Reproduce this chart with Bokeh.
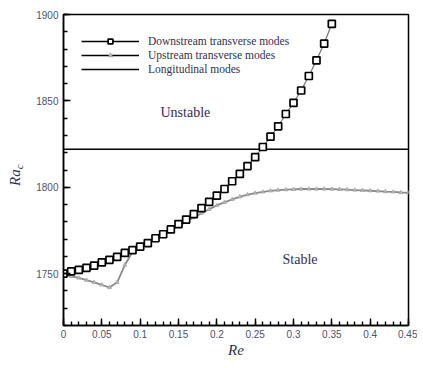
from bokeh.plotting import figure
from bokeh.models import Range1d, Label, Legend, LegendItem, FixedTicker, Div
from bokeh.layouts import row
from bokeh.embed import file_html
from bokeh.resources import INLINE

re_down = [0.00, 0.01, 0.02, 0.03, 0.04, 0.05, 0.06, 0.07, 0.08, 0.09, 0.10, 0.11,
           0.12, 0.13, 0.14, 0.15, 0.16, 0.17, 0.18, 0.19, 0.20, 0.21, 0.22, 0.23,
           0.24, 0.25, 0.26, 0.27, 0.28, 0.29, 0.30, 0.31, 0.32, 0.33, 0.34, 0.35]
ra_down = [1750.0, 1751.3, 1752.2, 1753.4, 1754.7, 1756.5, 1758.0, 1759.7, 1762.0,
           1763.6, 1765.7, 1767.7, 1770.5, 1772.8, 1775.6, 1778.7, 1781.3, 1784.5,
           1787.9, 1791.6, 1795.2, 1799.0, 1803.5, 1807.7, 1812.3, 1817.4, 1823.3,
           1829.3, 1835.3, 1842.4, 1848.9, 1856.0, 1864.4, 1873.5, 1883.2, 1894.6]

re_up = [round(0.01 * i, 2) for i in range(46)]
ra_up = [1749.5, 1748.5, 1747.5, 1746.3, 1745.0, 1743.5, 1742.0, 1745.0, 1755.0,
         1762.5, 1765.5, 1767.5, 1770.0, 1772.5, 1775.0, 1777.5, 1780.0, 1782.5,
         1785.0, 1787.3, 1789.5, 1791.3, 1793.0, 1794.5, 1795.7, 1796.6, 1797.3,
         1797.9, 1798.3, 1798.6, 1798.8, 1799.0, 1799.0, 1799.0, 1799.0, 1798.9,
         1798.8, 1798.6, 1798.4, 1798.2, 1798.0, 1797.8, 1797.5, 1797.3, 1797.0,
         1796.8]

re_long = [0.0, 0.45]
ra_long = [1822.0, 1822.0]

x_ticks = [0, 0.05, 0.1, 0.15, 0.2, 0.25, 0.3, 0.35, 0.4, 0.45]
x_tick_labels = ["0", "0.05", "0.1", "0.15", "0.2", "0.25", "0.3", "0.35", "0.4", "0.45"]
y_ticks = [1750, 1800, 1850, 1900]

TXT = "#303050"
DIV_W = 22

p = figure(width=407 - DIV_W, height=360, output_backend="svg", toolbar_location=None,
           x_range=Range1d(0, 0.45), y_range=Range1d(1720, 1900),
           min_border_left=53 - DIV_W, min_border_right=9, min_border_top=14,
           min_border_bottom=32)
p.xgrid.visible = False
p.ygrid.visible = False
p.outline_line_color = "black"
p.outline_line_width = 1.5
p.background_fill_color = "white"
p.border_fill_color = "white"

for ax in (p.xaxis, p.yaxis):
    ax.axis_line_width = 1.5
    ax.major_tick_in = 7
    ax.major_tick_out = 0
    ax.minor_tick_in = 4
    ax.minor_tick_out = 0
    ax.major_tick_line_width = 1.4
    ax.minor_tick_line_width = 1.4
    ax.major_label_text_font = "Liberation Sans"
    ax.major_label_text_font_size = "10px"
    ax.major_label_text_color = "#505070"

p.xaxis.ticker = FixedTicker(ticks=x_ticks, minor_ticks=[round(0.01 * i, 2) for i in range(46)])
p.xaxis.major_label_overrides = {t: l for t, l in zip(x_ticks, x_tick_labels)}
p.yaxis.ticker = FixedTicker(ticks=y_ticks, minor_ticks=list(range(1720, 1901, 10)))
p.xaxis.major_label_standoff = 4
p.yaxis.major_label_standoff = 5

p.xaxis.axis_label = "Re"
p.xaxis.axis_label_text_font = "Liberation Serif"
p.xaxis.axis_label_text_font_style = "italic"
p.xaxis.axis_label_text_font_size = "15px"
p.xaxis.axis_label_text_color = TXT
p.xaxis.axis_label_standoff = 1

long_r = p.line(re_long, ra_long, line_color="black", line_width=1.3)
up_line = p.line(re_up, ra_up, line_color="#8a8a8a", line_width=1.8)
up_mk = p.scatter(re_up, ra_up, marker="triangle", size=4, fill_color="#bbbbbb",
                  line_color="#999999", line_width=0.6)
down_line = p.line(re_down, ra_down, line_color="#777777", line_width=1.2)
down_mk = p.scatter(re_down, ra_down, marker="square", size=7, fill_color="white",
                    line_color="black", line_width=1.7)

# legend swatch lines (black); NaN data so nothing is drawn in the plot
nan = float("nan")
leg_down_line = p.line([nan, nan], [nan, nan], line_color="black", line_width=1.5)
leg_up_line = p.line([nan, nan], [nan, nan], line_color="black", line_width=1.5)

legend = Legend(items=[
    LegendItem(label="Downstream transverse modes", renderers=[leg_down_line, down_mk]),
    LegendItem(label="Upstream transverse modes", renderers=[leg_up_line, up_mk]),
    LegendItem(label="Longitudinal modes", renderers=[long_r]),
], location=(18, 250), glyph_width=58, glyph_height=12, label_height=12,
    spacing=2, padding=0, label_standoff=9, border_line_color=None,
    background_fill_alpha=0, label_text_font="Liberation Serif",
    label_text_font_size="11.5px", label_text_color=TXT, margin=0)
p.add_layout(legend)

p.add_layout(Label(x=0.1265, y=1839, text="Unstable", text_font="Liberation Serif",
                   text_font_size="14px", text_color=TXT))
p.add_layout(Label(x=0.2857, y=1754, text="Stable", text_font="Liberation Serif",
                   text_font_size="14px", text_color=TXT))

# rotated y-axis title Ra_c
ylabel = Div(width=DIV_W, height=360, text=(
    '<div style="position:absolute; left:3px; top:181px; transform:rotate(-90deg); '
    'transform-origin:0 0; white-space:nowrap; font-family:\'Liberation Serif\'; '
    'font-style:italic; font-size:15px; line-height:15px; color:' + TXT + ';">'
    'Ra<sub style="font-size:11px; vertical-align:-3px;">c</sub></div>'),
    styles={"position": "relative", "overflow": "visible"})

layout = row(ylabel, p, spacing=0)
open("out.html", "w").write(file_html(layout, INLINE))
